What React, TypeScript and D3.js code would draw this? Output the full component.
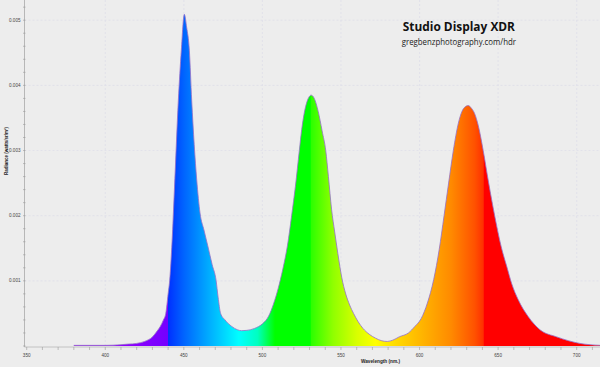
import React from "react";
import * as d3 from "d3";

const wavelengths = [
  380, 390, 400, 410, 415, 420, 425, 430, 433, 435, 437, 438.5, 440, 441, 442.5, 444,
  446.5, 448.4, 450.3, 451.8, 453.5, 455, 458.2, 460.3, 462.8, 465.4, 468, 470.5,
  471.8, 473.4, 476.2, 480.5, 484, 486.8, 490, 492.5, 495, 500, 504, 507,
  510, 513, 516, 518.6, 521, 523.5, 525, 527, 529, 531, 533, 535.5, 538, 540.3,
  542, 544, 546, 548, 550.5, 553, 555.5, 558, 561, 564, 568, 572, 576, 579.5,
  583, 587, 592.9, 597, 601, 605, 609, 612.5, 615.6, 618.5, 621.5, 624.7, 627,
  629, 631, 633, 635, 637.4, 640.5, 644, 647.8, 652, 655.5, 658.6, 662.8, 669.2,
  676.6, 687.3, 702, 715, 730,
];
const radiance = [
  0.00001, 0.00001, 0.00001, 0.00002, 0.00003, 0.00004, 0.00007, 0.00014, 0.00023, 0.0003, 0.0004, 0.0005, 0.0008, 0.00101, 0.0016, 0.0024,
  0.00377, 0.00454, 0.00509, 0.00489, 0.00454, 0.00377, 0.00255, 0.00204, 0.00178, 0.00152, 0.00125, 0.00101,
  0.00075, 0.0005, 0.0004, 0.0003, 0.00025, 0.000235, 0.00024, 0.00025, 0.00027, 0.00034, 0.00046, 0.00064,
  0.00088, 0.00118, 0.00155, 0.002, 0.00245, 0.003, 0.00332, 0.00362, 0.00379, 0.00385, 0.0038, 0.0036, 0.0033, 0.003,
  0.0026, 0.0021, 0.00175, 0.00142, 0.00105, 0.0008, 0.00063, 0.0005, 0.00037, 0.00027, 0.00018, 0.00012, 0.00008, 0.00007,
  0.00009, 0.00014, 0.0002, 0.0003, 0.00042, 0.00066, 0.00102, 0.00148, 0.002, 0.0025, 0.003, 0.00342, 0.0036,
  0.00367, 0.00369, 0.00365, 0.00357, 0.00338, 0.003, 0.0025, 0.002, 0.00152, 0.00122, 0.00096, 0.00071, 0.00045,
  0.00025, 0.00014, 0.00004, 0.00001, 0,
];

const xTickLabels = [350, 400, 450, 500, 550, 600, 650, 700];
const yTickLabels = [0.001, 0.002, 0.003, 0.004, 0.005];

const title = "Studio Display XDR";
const subtitle = "gregbenzphotography.com/hdr";
const xTitle = "Wavelength (nm.)";
const yTitle = "Radiance (watts/sr/m\u00B2)";

// spectral gradient (style)
const spectrumStops: [number, string][] = [
  [380, "#9a00ff"],
  [420, "#8a00ff"],
  [439.8, "#7400ff"],
  [440, "#0030ff"],
  [450, "#0064ff"],
  [465, "#00a8ff"],
  [485, "#00ffff"],
  [497, "#00ffc0"],
  [508, "#00ff00"],
  [530.5, "#00ff00"],
  [531, "#2cff00"],
  [545, "#90ff00"],
  [560, "#d8ff00"],
  [572, "#ffff00"],
  [585, "#ffda00"],
  [600, "#ffb800"],
  [620, "#ff8a00"],
  [635, "#ff5200"],
  [640.6, "#ff3000"],
  [641, "#ff0000"],
  [730, "#ff0000"],
];

export default function App() {
  const W = 600;
  const H = 367;
  const x = d3.scaleLinear().domain([350, 730]).range([26.7, 26.7 + 380 * 1.5714]);
  const y = d3.scaleLinear().domain([0, 0.005]).range([346, 20.2]);
  const axisX = 24.5;
  const axisY = 347;

  const pts = wavelengths.map((w, i) => [w, radiance[i]] as [number, number]);
  const curve = d3.curveMonotoneX;
  const area = d3
    .area<[number, number]>()
    .x((d) => x(d[0]))
    .y0(y(0))
    .y1((d) => y(d[1]))
    .curve(curve);
  const line = d3
    .line<[number, number]>()
    .x((d) => x(d[0]))
    .y((d) => y(d[1]))
    .curve(curve);

  const gx1 = x(380);
  const gx2 = x(730);

  const xMinor = d3.range(350, 731, 10);
  const yMinor = d3.range(0, 0.00531, 0.0002);

  return (
    <svg
      width={W}
      height={H}
      style={{ position: "absolute", left: 0, top: 0, display: "block" }}
      fontFamily="'Liberation Sans', Arial, sans-serif"
    >
      <defs>
        <linearGradient id="spec" gradientUnits="userSpaceOnUse" x1={gx1} x2={gx2} y1={0} y2={0}>
          {spectrumStops.map(([w, c], i) => (
            <stop key={i} offset={(x(w) - gx1) / (gx2 - gx1)} stopColor={c} />
          ))}
        </linearGradient>
      </defs>
      <rect x={0} y={0} width={W} height={H} fill="#ededed" />

      {/* grid */}
      {xTickLabels.slice(1).map((t) => (
        <line key={"gx" + t} x1={x(t)} x2={x(t)} y1={0} y2={axisY} stroke="#dedee8" strokeWidth={0.8} strokeDasharray="2,2" />
      ))}
      {yTickLabels.map((t) => (
        <line key={"gy" + t} x1={axisX} x2={W} y1={y(t)} y2={y(t)} stroke="#dedee8" strokeWidth={0.8} strokeDasharray="2,2" />
      ))}

      {/* spectrum */}
      <path d={area(pts) || ""} fill="url(#spec)" />
      <path d={line(pts) || ""} fill="none" stroke="#9470c8" strokeWidth={0.8} />

      {/* axes */}
      <line x1={axisX} x2={axisX} y1={0} y2={axisY} stroke="#a8a8a8" strokeWidth={0.8} />
      <line x1={axisX} x2={W} y1={axisY} y2={axisY} stroke="#b8b8b8" strokeWidth={0.8} />
      {yMinor.map((t, i) => (
        <line key={"ym" + i} x1={axisX - 1.5} x2={axisX + 1} y1={y(t)} y2={y(t)} stroke="#9a9a9a" strokeWidth={0.6} />
      ))}
      {xMinor.map((t) => (
        <line key={"xm" + t} x1={x(t)} x2={x(t)} y1={axisY} y2={axisY + 3} stroke="#9a9a9a" strokeWidth={0.6} />
      ))}
      {yTickLabels.map((t) => (
        <text key={"yl" + t} x={20.5} y={y(t) + 1.6} fontSize={4.6} fill="#444" textAnchor="end">
          {d3.format(".3f")(t)}
        </text>
      ))}
      {xTickLabels.map((t) => (
        <text key={"xl" + t} x={x(t)} y={356.5} fontSize={4.6} fill="#444" textAnchor="middle">
          {t}
        </text>
      ))}
      <text x={380.5} y={362.5} fontSize={5.4} fontWeight="bold" fill="#222" textAnchor="middle" textLength={39} lengthAdjust="spacingAndGlyphs">
        {xTitle}
      </text>
      <text
        transform={`translate(8.3,151) rotate(-90)`}
        fontSize={5}
        fontWeight="bold"
        fill="#222"
        textAnchor="middle"
        textLength={48}
        lengthAdjust="spacingAndGlyphs"
      >
        {yTitle}
      </text>

      {/* title */}
      <text x={402.7} y={31} fontSize={11.5} fontWeight="bold" fill="#111" fontFamily="'Open Sans', sans-serif" textLength={112.3} lengthAdjust="spacingAndGlyphs">
        {title}
      </text>
      <text x={401.7} y={44.7} fontSize={9} fill="#222" fontFamily="'Open Sans', sans-serif" textLength={114.3} lengthAdjust="spacingAndGlyphs">
        {subtitle}
      </text>
    </svg>
  );
}
